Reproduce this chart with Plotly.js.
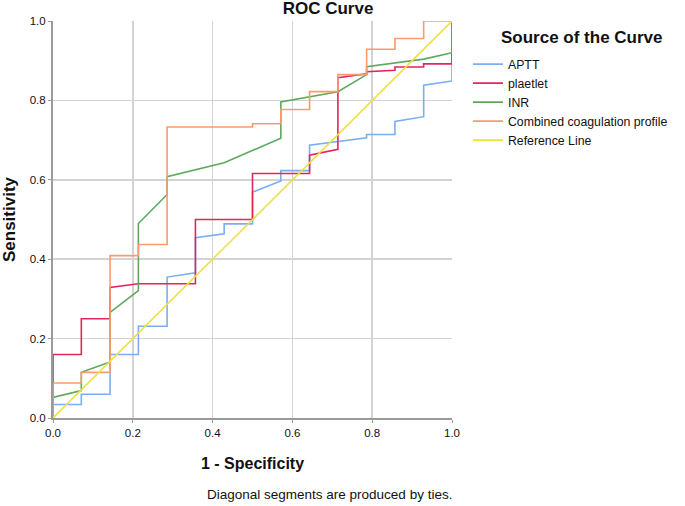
<!DOCTYPE html>
<html>
<head>
<meta charset="utf-8">
<script src="https://cdn.plot.ly/plotly-3.0.1.min.js"></script>
<style>
  html, body { margin: 0; padding: 0; background: #fff; }
  #chart { width: 685px; height: 506px; }
</style>
</head>
<body>
<div id="chart"></div>
<script>
// ---- Data ----
const seriesNames = ["APTT", "plaetlet", "INR", "Combined coagulation profile", "Reference Line"];

const apttX = [0, 0, 0.071, 0.071, 0.143, 0.143, 0.214, 0.214, 0.286, 0.286, 0.357, 0.357, 0.429, 0.429, 0.5, 0.5, 0.571, 0.571, 0.643, 0.643, 0.786, 0.786, 0.857, 0.857, 0.929, 0.929, 1, 1];
const apttY = [0, 0.034, 0.034, 0.060, 0.060, 0.160, 0.160, 0.231, 0.231, 0.355, 0.366, 0.454, 0.464, 0.489, 0.489, 0.569, 0.597, 0.623, 0.623, 0.687, 0.706, 0.714, 0.714, 0.747, 0.759, 0.838, 0.849, 1];

const plateletX = [0, 0, 0.071, 0.071, 0.143, 0.143, 0.214, 0.357, 0.357, 0.5, 0.5, 0.643, 0.643, 0.714, 0.714, 0.786, 0.786, 0.857, 0.857, 0.929, 0.929, 1, 1];
const plateletY = [0, 0.160, 0.160, 0.250, 0.250, 0.329, 0.338, 0.338, 0.500, 0.500, 0.616, 0.616, 0.662, 0.677, 0.857, 0.867, 0.872, 0.876, 0.884, 0.884, 0.892, 0.892, 1];

const inrX = [0, 0, 0.071, 0.071, 0.143, 0.143, 0.214, 0.214, 0.286, 0.286, 0.429, 0.571, 0.571, 0.714, 0.786, 0.786, 0.929, 1, 1];
const inrY = [0, 0.052, 0.069, 0.115, 0.141, 0.266, 0.321, 0.490, 0.563, 0.608, 0.643, 0.705, 0.796, 0.822, 0.865, 0.885, 0.904, 0.920, 1];

const combinedX = [0, 0, 0.071, 0.071, 0.143, 0.143, 0.214, 0.214, 0.286, 0.286, 0.5, 0.5, 0.571, 0.571, 0.643, 0.643, 0.714, 0.714, 0.786, 0.786, 0.857, 0.857, 0.929, 0.929, 1];
const combinedY = [0, 0.088, 0.088, 0.115, 0.115, 0.409, 0.409, 0.437, 0.437, 0.733, 0.733, 0.741, 0.741, 0.777, 0.777, 0.822, 0.822, 0.865, 0.865, 0.929, 0.929, 0.956, 0.956, 1, 1];

const referenceX = [0, 1];
const referenceY = [0, 1];

const tickVals = [0, 0.2, 0.4, 0.6, 0.8, 1.0];
const tickText = ["0.0", "0.2", "0.4", "0.6", "0.8", "1.0"];

const colors = ["#7aaeee", "#e4255a", "#5ea95e", "#fb9a6c", "#f0df45"];

const xs = [apttX, plateletX, inrX, combinedX, referenceX];
const ys = [apttY, plateletY, inrY, combinedY, referenceY];

const traces = seriesNames.map((name, i) => ({
  type: "scatter",
  mode: "lines",
  name: name,
  x: xs[i],
  y: ys[i],
  line: { color: colors[i], width: 1.6 },
  hoverinfo: "skip"
}));

const font = "Liberation Sans, Arial, sans-serif";

const layout = {
  width: 685,
  height: 506,
  margin: { l: 53, r: 233, t: 21, b: 88, autoexpand: false },
  paper_bgcolor: "#ffffff",
  plot_bgcolor: "#ffffff",
  font: { family: font, color: "#111", size: 11.5 },
  showlegend: true,
  title: {
    text: "<b>ROC Curve</b>",
    font: { family: font, size: 17, color: "#111" },
    x: 328 / 685, xanchor: "center",
    y: 1.0, yanchor: "top", yref: "container",
    pad: { t: 2 }
  },
  xaxis: {
    range: [0, 1],
    tickvals: tickVals,
    ticktext: tickText,
    showgrid: true,
    gridcolor: "#d3d3d3",
    gridwidth: 1.5,
    zeroline: false,
    showline: true,
    linecolor: "#9a9a9a",
    linewidth: 2,
    ticks: "outside",
    ticklen: 3,
    tickcolor: "#9a9a9a",
    tickfont: { family: font, size: 11.5, color: "#111" },
    title: { text: "<b>1 - Specificity</b>", font: { family: font, size: 16, color: "#111" }, standoff: 20 },
    automargin: false,
    fixedrange: true
  },
  yaxis: {
    range: [0, 1],
    tickvals: tickVals,
    ticktext: tickText,
    showgrid: true,
    gridcolor: "#d3d3d3",
    gridwidth: 1.5,
    zeroline: false,
    showline: true,
    linecolor: "#9a9a9a",
    linewidth: 2,
    ticks: "outside",
    ticklen: 3,
    tickcolor: "#9a9a9a",
    tickfont: { family: font, size: 11.5, color: "#111" },
    title: { text: "<b>Sensitivity</b>", font: { family: font, size: 17, color: "#111" }, standoff: 14 },
    automargin: false,
    fixedrange: true
  },
  legend: {
    x: 1.04, xanchor: "left",
    y: 0.928, yanchor: "top",
    bgcolor: "rgba(0,0,0,0)",
    borderwidth: 0,
    font: { family: font, size: 12.3, color: "#111" },
    tracegroupgap: 0
  },
  annotations: [
    {
      text: "<b>Source of the Curve</b>",
      xref: "paper", yref: "paper",
      x: (582 - 53) / 399, y: (418.3 - 38) / 396.7,
      xanchor: "center", yanchor: "middle",
      showarrow: false,
      font: { family: font, size: 17, color: "#111" }
    },
    {
      text: "Diagonal segments are produced by ties.",
      xref: "paper", yref: "paper",
      x: (454 - 53) / 399, y: (418.3 - 495) / 396.7,
      xanchor: "right", yanchor: "middle",
      showarrow: false,
      font: { family: font, size: 13.5, color: "#111" }
    }
  ]
};

Plotly.newPlot("chart", traces, layout, { staticPlot: true, displayModeBar: false });
</script>
</body>
</html>
